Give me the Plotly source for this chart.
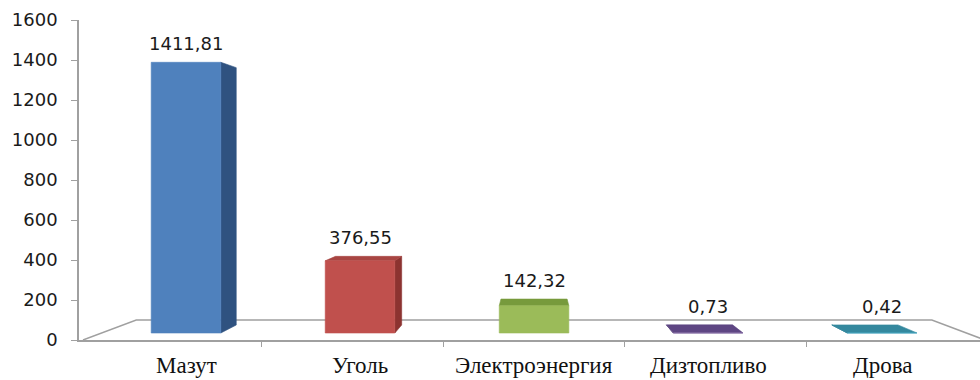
import plotly.graph_objects as go

# Fuel cost data
categories = ["Мазут", "Уголь", "Электроэнергия", "Дизтопливо", "Дрова"]
values = [1411.81, 376.55, 142.32, 0.73, 0.42]
value_labels = ["1411,81", "376,55", "142,32", "0,73", "0,42"]
y_ticks = [0, 200, 400, 600, 800, 1000, 1200, 1400, 1600]

front_colors = ["#4F81BD", "#C0504D", "#9BBB59", "#8064A2", "#4BACC6"]
side_colors = ["#2F5280", "#8C3330", "#6E8A3A", "#5A4478", "#2F8297"]
top_colors = ["#4574AE", "#A84542", "#779A3C", "#5E4683", "#34889E"]

# Simple perspective helpers: c = category position, h = value, d = depth (0 front, 1 back)
VP_C = 2.0          # horizontal vanishing position (category units)
VP_H = 847.5        # eye level (value units)
SHRINK = 0.118      # scale reduction from front to back of the floor
BAR_HALF = 0.2
D_FRONT, D_BACK = 0.35, 0.75
FLOOR_HALF = 2.485


def proj(c, h, d):
    s = 1 - SHRINK * d
    return VP_C + (c - VP_C) * s, VP_H + (h - VP_H) * s


def poly(points):
    xs, ys = zip(*[proj(*p) for p in points])
    return list(xs) + [xs[0]], list(ys) + [ys[0]]


fig = go.Figure()
grid_col = "#A0A0A0"

# floor outline (left side, back edge, right side)
fx, fy = zip(*[proj(VP_C - FLOOR_HALF, 0, 0), proj(VP_C - FLOOR_HALF, 0, 1),
               proj(VP_C + FLOOR_HALF, 0, 1), proj(VP_C + FLOOR_HALF, 0, 0)])
fig.add_trace(go.Scatter(x=fx, y=fy, mode="lines", line=dict(color=grid_col, width=1.5),
                         hoverinfo="skip", showlegend=False))

for i, v in enumerate(values):
    c0, c1 = i - BAR_HALF, i + BAR_HALF
    faces = []
    # side face facing the viewer
    if c1 < VP_C:
        faces.append(([(c1, 0, D_FRONT), (c1, 0, D_BACK), (c1, v, D_BACK), (c1, v, D_FRONT)], side_colors[i]))
    elif c0 > VP_C:
        faces.append(([(c0, 0, D_FRONT), (c0, 0, D_BACK), (c0, v, D_BACK), (c0, v, D_FRONT)], side_colors[i]))
    # top face when below eye level
    if v < VP_H:
        faces.append(([(c0, v, D_FRONT), (c1, v, D_FRONT), (c1, v, D_BACK), (c0, v, D_BACK)], top_colors[i]))
    # front face
    faces.append(([(c0, 0, D_FRONT), (c1, 0, D_FRONT), (c1, v, D_FRONT), (c0, v, D_FRONT)], front_colors[i]))
    for pts, col in faces:
        px, py = poly(pts)
        fig.add_trace(go.Scatter(x=px, y=py, mode="lines", fill="toself", fillcolor=col,
                                 line=dict(color=col, width=0.6), hoverinfo="skip",
                                 showlegend=False))

    # value label above the highest visible corner
    top_y = max(proj(c0, v, D_FRONT)[1], proj(c0, v, D_BACK)[1])
    lx = proj(i, v, D_FRONT)[0]
    fig.add_annotation(x=lx, y=top_y, text=value_labels[i], showarrow=False,
                       xanchor="center", yanchor="bottom", yshift=6,
                       font=dict(family="DejaVu Sans", size=18, color="#1a1a1a"))
    # category label under the floor
    fig.add_annotation(x=lx, y=0, text=categories[i], showarrow=False,
                       xanchor="center", yanchor="top", yshift=-11,
                       font=dict(family="Liberation Serif", size=23, color="#111111"))

fig.update_xaxes(range=[-0.507, 4.457], showgrid=False, zeroline=False,
                 showline=True, linecolor=grid_col, linewidth=1.5,
                 tickmode="array", tickvals=[0.5, 1.5, 2.5, 3.5], ticktext=["", "", "", ""],
                 ticks="outside", ticklen=5, tickcolor=grid_col, tickwidth=1.3)
fig.update_yaxes(range=[0, 1600], showgrid=False, zeroline=False,
                 showline=True, linecolor=grid_col, linewidth=1.5,
                 tickmode="array", tickvals=y_ticks, ticks="outside", ticklen=6,
                 tickcolor=grid_col, tickwidth=1.3, ticklabelstandoff=10,
                 tickfont=dict(family="DejaVu Sans", size=18, color="#1a1a1a"))

fig.update_layout(width=980, height=380, margin=dict(l=79, r=0, t=20, b=40),
                  plot_bgcolor="white", paper_bgcolor="white", showlegend=False)

fig.write_html("out.html")
